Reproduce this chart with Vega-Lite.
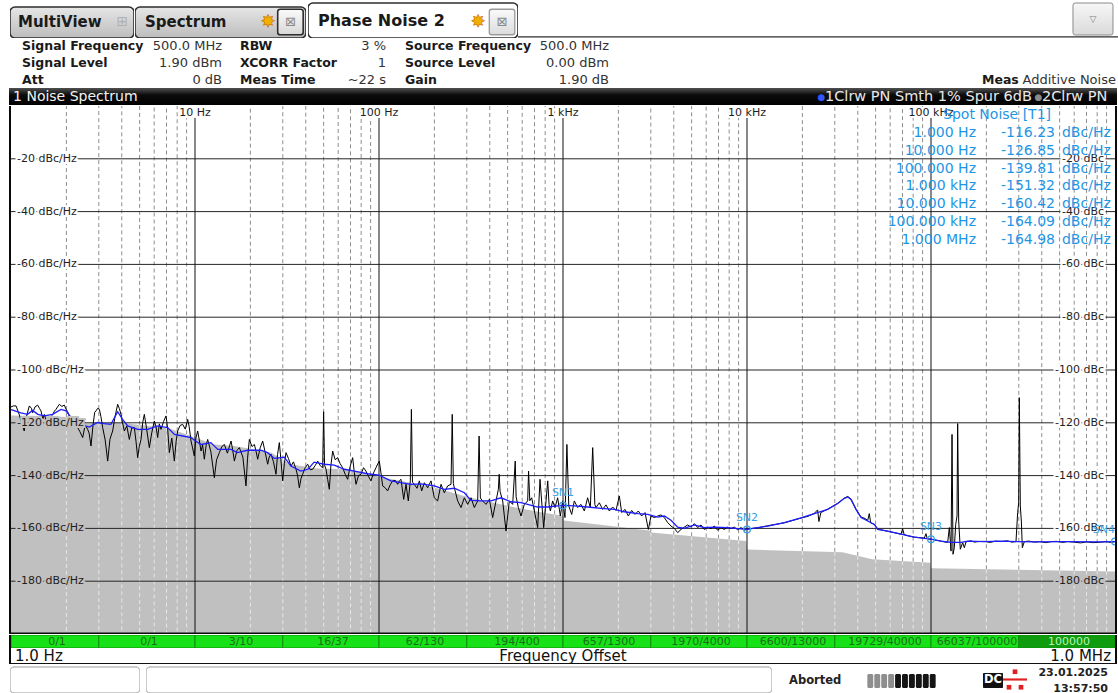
{
"$schema":"https://vega.github.io/schema/vega-lite/v6.json",
"background":"#ffffff",
"padding":0,
"spacing":0,
"config":{"view":{"stroke":null},"concat":{"spacing":0},"axis":{"disable":true},"legend":{"disable":true},"font":"DejaVu Sans"},
"datasets":{
"params":[
{"c":"1","r":"1","k":"Signal Frequency","v":"500.0 MHz"},
{"c":"1","r":"2","k":"Signal Level","v":"1.90 dBm"},
{"c":"1","r":"3","k":"Att","v":"0 dB"},
{"c":"2","r":"1","k":"RBW","v":"3 %"},
{"c":"2","r":"2","k":"XCORR Factor","v":"1"},
{"c":"2","r":"3","k":"Meas Time","v":"~22 s"},
{"c":"3","r":"1","k":"Source Frequency","v":"500.0 MHz"},
{"c":"3","r":"2","k":"Source Level","v":"0.00 dBm"},
{"c":"3","r":"3","k":"Gain","v":"1.90 dB"}
],
"area":[
{"f":1,"a":-117.2},{"f":1.5,"a":-117.4},{"f":2,"a":-117.8},{"f":2.2,"a":-118.7},{"f":2.6,"a":-120.3},{"f":3.5,"a":-120},{"f":4.3,"a":-120.3},{"f":5.6,"a":-121.2},{"f":7,"a":-121.8},{"f":9,"a":-124.4},{"f":12.7,"a":-128.2},{"f":16.4,"a":-128.8},{"f":21,"a":-130.1},{"f":26,"a":-131.3},{"f":33,"a":-135.7},{"f":46,"a":-137.3},{"f":67,"a":-137.6},{"f":85,"a":-139.5},{"f":132,"a":-142},{"f":200,"a":-144.5},{"f":300,"a":-148},{"f":450,"a":-150.8},{"f":600,"a":-152.6},{"f":800,"a":-154.2},{"f":1000,"a":-155.2},{"f":1010,"a":-157},{"f":2950,"a":-160.8},{"f":3000,"a":-161.6},{"f":9900,"a":-164.8},{"f":10000,"a":-168},{"f":33000,"a":-169},{"f":48000,"a":-171.7},{"f":99000,"a":-173},{"f":100000,"a":-175.1},{"f":1000000,"a":-176.3}
],
"minor":[
{"f":2,"a":-117.8},{"f":3,"a":-120.1},{"f":4,"a":-120.2},{"f":5,"a":-120.8},{"f":6,"a":-121.4},{"f":7,"a":-121.8},{"f":8,"a":-123.2},{"f":9,"a":-124.4},
{"f":20,"a":-129.8},{"f":30,"a":-133.8},{"f":40,"a":-136.6},{"f":50,"a":-137.4},{"f":60,"a":-137.5},{"f":70,"a":-138},{"f":80,"a":-139},{"f":90,"a":-139.8},
{"f":200,"a":-144.5},{"f":300,"a":-148},{"f":400,"a":-150},{"f":500,"a":-151.5},{"f":600,"a":-152.6},{"f":700,"a":-153.5},{"f":800,"a":-154.2},{"f":900,"a":-154.7},
{"f":2000,"a":-159.4},{"f":3000,"a":-161.6},{"f":4000,"a":-162.4},{"f":5000,"a":-163},{"f":6000,"a":-163.5},{"f":7000,"a":-163.9},{"f":8000,"a":-164.2},{"f":9000,"a":-164.5},
{"f":20000,"a":-168.6},{"f":30000,"a":-168.9},{"f":40000,"a":-170.4},{"f":50000,"a":-171.8},{"f":60000,"a":-172.1},{"f":70000,"a":-172.4},{"f":80000,"a":-172.6},{"f":90000,"a":-172.8},
{"f":200000,"a":-175.5},{"f":300000,"a":-175.7},{"f":400000,"a":-175.8},{"f":500000,"a":-175.9},{"f":600000,"a":-176},{"f":700000,"a":-176.1},{"f":800000,"a":-176.2},{"f":900000,"a":-176.2}
],
"dec":[{"f":10,"t":"10 Hz"},{"f":100,"t":"100 Hz"},{"f":1000,"t":"1 kHz"},{"f":10000,"t":"10 kHz"},{"f":100000,"t":"100 kHz"}],
"hgrid":[
{"v":-20,"l":"-20 dBc/Hz","r":"-20 dBc"},{"v":-40,"l":"-40 dBc/Hz","r":"-40 dBc"},{"v":-60,"l":"-60 dBc/Hz","r":"-60 dBc"},{"v":-80,"l":"-80 dBc/Hz","r":"-80 dBc"},{"v":-100,"l":"-100 dBc/Hz","r":"-100 dBc"},{"v":-120,"l":"-120 dBc/Hz","r":"-120 dBc"},{"v":-140,"l":"-140 dBc/Hz","r":"-140 dBc"},{"v":-160,"l":"-160 dBc/Hz","r":"-160 dBc"},{"v":-180,"l":"-180 dBc/Hz","r":"-180 dBc"}
],
"spots":[{"n":"SN1","f":1000,"d":-151.32},{"n":"SN2","f":10000,"d":-160.42},{"n":"SN3","f":100000,"d":-164.09},{"n":"SN4","f":1000000,"d":-164.98}],
"table":[
{"row":1,"fq":"1.000 Hz","val":"-116.23"},{"row":2,"fq":"10.000 Hz","val":"-126.85"},{"row":3,"fq":"100.000 Hz","val":"-139.81"},{"row":4,"fq":"1.000 kHz","val":"-151.32"},{"row":5,"fq":"10.000 kHz","val":"-160.42"},{"row":6,"fq":"100.000 kHz","val":"-164.09"},{"row":7,"fq":"1.000 MHz","val":"-164.98"}
],
"green":[
{"i":1,"s":1,"e":3,"t":"0/1"},{"i":2,"s":3,"e":10,"t":"0/1"},{"i":3,"s":10,"e":30,"t":"3/10"},{"i":4,"s":30,"e":100,"t":"16/37"},{"i":5,"s":100,"e":300,"t":"62/130"},{"i":6,"s":300,"e":1000,"t":"194/400"},{"i":7,"s":1000,"e":3000,"t":"657/1300"},{"i":8,"s":3000,"e":10000,"t":"1970/4000"},{"i":9,"s":10000,"e":30000,"t":"6600/13000"},{"i":10,"s":30000,"e":100000,"t":"19729/40000"},{"i":11,"s":100000,"e":300000,"t":"66037/100000"},{"i":12,"s":300000,"e":1000000,"t":"100000"}
],
"blue":[
{"f":1,"d":-115},{"f":1.03,"d":-115.3},{"f":1.13,"d":-116.2},{"f":1.23,"d":-116.8},{"f":1.31,"d":-115.3},{"f":1.4,"d":-116.8},{"f":1.52,"d":-117.4},{"f":1.68,"d":-116.8},{"f":1.87,"d":-114.9},{"f":1.99,"d":-115.5},{"f":2.12,"d":-118},{"f":2.4,"d":-120.6},{"f":2.66,"d":-121.6},{"f":2.96,"d":-119.9},{"f":3.21,"d":-120.3},{"f":3.49,"d":-120.6},{"f":3.8,"d":-115.8},{"f":4.04,"d":-118.7},{"f":4.31,"d":-121.2},{"f":4.88,"d":-122.5},{"f":5.53,"d":-122.5},{"f":6.27,"d":-121.2},{"f":7.1,"d":-121.8},{"f":7.73,"d":-124.4},{"f":8.58,"d":-125},{"f":9.51,"d":-125.6},{"f":10,"d":-126.8},{"f":10.8,"d":-128.2},{"f":12.2,"d":-127.5},{"f":13.3,"d":-130.1},{"f":15.7,"d":-130.1},{"f":17,"d":-131.3},{"f":19.3,"d":-130.4},{"f":22.8,"d":-130.4},{"f":24.8,"d":-131.3},{"f":27,"d":-133.5},{"f":30.6,"d":-133},{"f":33.2,"d":-136.4},{"f":37.6,"d":-138.3},{"f":41.1,"d":-137.6},{"f":44.4,"d":-134.9},{"f":50.5,"d":-135.7},{"f":57.1,"d":-136},{"f":64.9,"d":-137.6},{"f":73.5,"d":-138.3},{"f":86.7,"d":-139.3},{"f":100,"d":-139.8},{"f":116,"d":-142},{"f":131,"d":-142.7},{"f":149,"d":-143.3},{"f":169,"d":-143.1},{"f":200,"d":-143.9},{"f":226,"d":-145.2},{"f":257,"d":-144.8},{"f":291,"d":-146.5},{"f":316,"d":-149.4},{"f":358,"d":-149.6},{"f":406,"d":-149.6},{"f":460,"d":-148.4},{"f":521,"d":-149.9},{"f":591,"d":-150.2},{"f":643,"d":-150.9},{"f":728,"d":-151.9},{"f":826,"d":-151.9},{"f":935,"d":-151.5},{"f":1000,"d":-151.3},{"f":1152,"d":-151.5},{"f":1361,"d":-151.9},{"f":1610,"d":-152.4},{"f":1902,"d":-152.8},{"f":2155,"d":-153.7},{"f":2546,"d":-154.4},{"f":2886,"d":-154.7},{"f":3270,"d":-155.7},{"f":3556,"d":-155.3},{"f":3864,"d":-156.9},{"f":4200,"d":-159.5},{"f":4565,"d":-160},{"f":5172,"d":-158.7},{"f":5862,"d":-159.7},{"f":6642,"d":-159.5},{"f":7852,"d":-159.7},{"f":8897,"d":-160.1},{"f":10000,"d":-160.4},{"f":11430,"d":-159.7},{"f":12950,"d":-159.1},{"f":15950,"d":-157.8},{"f":19650,"d":-156},{"f":23220,"d":-154.4},{"f":27460,"d":-152.8},{"f":31120,"d":-150.6},{"f":33830,"d":-148.6},{"f":35270,"d":-148.1},{"f":36750,"d":-149},{"f":39100,"d":-152.8},{"f":41660,"d":-155.9},{"f":45290,"d":-157.2},{"f":49230,"d":-158.5},{"f":51320,"d":-160.4},{"f":58180,"d":-161},{"f":68720,"d":-162.2},{"f":81150,"d":-163.3},{"f":91970,"d":-163.8},{"f":100000,"d":-164.1},{"f":113300,"d":-164.8},{"f":128400,"d":-165.3},{"f":145600,"d":-165.3},{"f":158200,"d":-164.8},{"f":195000,"d":-165},{"f":240000,"d":-164.8},{"f":295800,"d":-165},{"f":364200,"d":-165.1},{"f":552700,"d":-165},{"f":839700,"d":-165.1},{"f":1000000,"d":-165}
],
"black":[
{"f":1,"d":-114},{"f":1.03,"d":-113.6},{"f":1.065,"d":-113.6},{"f":1.09,"d":-115.5},{"f":1.11,"d":-117},{"f":1.14,"d":-120},{"f":1.18,"d":-123.1},{"f":1.21,"d":-118},{"f":1.258,"d":-113.6},{"f":1.29,"d":-114.5},{"f":1.311,"d":-116.2},{"f":1.35,"d":-114},{"f":1.396,"d":-113.3},{"f":1.43,"d":-114.6},{"f":1.455,"d":-115.5},{"f":1.49,"d":-118.5},{"f":1.518,"d":-116.8},{"f":1.55,"d":-119},{"f":1.582,"d":-121.8},{"f":1.63,"d":-118},{"f":1.685,"d":-117},{"f":1.72,"d":-115.6},{"f":1.756,"d":-114.9},{"f":1.79,"d":-114},{"f":1.831,"d":-113},{"f":1.89,"d":-113.8},{"f":1.949,"d":-113.3},{"f":1.99,"d":-114.8},{"f":2.032,"d":-115.8},{"f":2.09,"d":-118.2},{"f":2.164,"d":-119.9},{"f":2.23,"d":-118.6},{"f":2.303,"d":-121.8},{"f":2.37,"d":-123.4},{"f":2.452,"d":-125.6},{"f":2.53,"d":-120.8},{"f":2.61,"d":-122.5},{"f":2.66,"d":-124},{"f":2.721,"d":-128.8},{"f":2.79,"d":-121},{"f":2.85,"d":-116},{"f":2.897,"d":-115.5},{"f":2.96,"d":-114.5},{"f":3.021,"d":-114.9},{"f":3.08,"d":-117.6},{"f":3.149,"d":-121.8},{"f":3.25,"d":-126.5},{"f":3.353,"d":-134.5},{"f":3.45,"d":-126.2},{"f":3.568,"d":-123.1},{"f":3.68,"d":-117.5},{"f":3.799,"d":-113},{"f":3.88,"d":-114.6},{"f":3.961,"d":-116.8},{"f":4.04,"d":-120},{"f":4.13,"d":-123.1},{"f":4.26,"d":-121.2},{"f":4.397,"d":-126.3},{"f":4.53,"d":-122},{"f":4.681,"d":-121.8},{"f":4.78,"d":-127},{"f":4.88,"d":-133.2},{"f":4.98,"d":-129},{"f":5.088,"d":-126.3},{"f":5.2,"d":-119.8},{"f":5.305,"d":-116.8},{"f":5.45,"d":-122},{"f":5.647,"d":-129.4},{"f":5.82,"d":-123.8},{"f":6.012,"d":-119.3},{"f":6.14,"d":-121.5},{"f":6.268,"d":-125.6},{"f":6.4,"d":-120.4},{"f":6.535,"d":-122.5},{"f":6.75,"d":-119.5},{"f":6.957,"d":-117.4},{"f":7.1,"d":-122},{"f":7.254,"d":-131.3},{"f":7.48,"d":-125.8},{"f":7.722,"d":-134.5},{"f":7.9,"d":-127},{"f":8.051,"d":-123.1},{"f":8.3,"d":-121},{"f":8.57,"d":-120.6},{"f":8.85,"d":-122.4},{"f":9.124,"d":-118.7},{"f":9.3,"d":-121.5},{"f":9.512,"d":-126.9},{"f":9.7,"d":-129.5},{"f":9.917,"d":-132.6},{"f":10.1,"d":-126},{"f":10.34,"d":-123.1},{"f":10.55,"d":-126.5},{"f":10.78,"d":-130.7},{"f":11,"d":-128.4},{"f":11.24,"d":-133.8},{"f":11.5,"d":-128.5},{"f":11.72,"d":-126.3},{"f":12.2,"d":-131},{"f":12.74,"d":-140.8},{"f":13.1,"d":-134},{"f":13.56,"d":-131.3},{"f":14,"d":-129},{"f":14.44,"d":-128.2},{"f":15,"d":-131.5},{"f":15.7,"d":-126.9},{"f":16,"d":-130},{"f":16.37,"d":-134.5},{"f":16.9,"d":-130.5},{"f":17.42,"d":-129.4},{"f":18.2,"d":-133},{"f":18.93,"d":-143.9},{"f":19.3,"d":-133.5},{"f":19.74,"d":-126.3},{"f":20.4,"d":-129},{"f":21.02,"d":-128.2},{"f":21.5,"d":-131},{"f":21.91,"d":-133.8},{"f":22.6,"d":-129.5},{"f":23.33,"d":-126.9},{"f":24,"d":-130.8},{"f":24.83,"d":-135.7},{"f":25.3,"d":-133},{"f":25.88,"d":-131.9},{"f":26.7,"d":-134.8},{"f":27.56,"d":-139.5},{"f":28.1,"d":-132},{"f":28.73,"d":-127.5},{"f":29.3,"d":-134},{"f":29.96,"d":-142},{"f":30.6,"d":-135.5},{"f":31.23,"d":-131.3},{"f":32.2,"d":-133.5},{"f":33.25,"d":-136.4},{"f":34.3,"d":-134.8},{"f":35.39,"d":-137.6},{"f":36.1,"d":-140},{"f":36.9,"d":-144.6},{"f":37.7,"d":-141},{"f":38.47,"d":-139.5},{"f":39.7,"d":-137},{"f":40.96,"d":-135.7},{"f":42.3,"d":-137.8},{"f":43.61,"d":-137.6},{"f":45,"d":-136.2},{"f":46.42,"d":-134.5},{"f":48,"d":-136.3},{"f":49.41,"d":-137},{"f":50,"d":-115.8},{"f":50.6,"d":-136},{"f":51.52,"d":-137.6},{"f":52.6,"d":-141.5},{"f":53.71,"d":-145.2},{"f":54.8,"d":-136},{"f":56.01,"d":-130.7},{"f":57.8,"d":-134},{"f":59.63,"d":-133.2},{"f":61.5,"d":-135.5},{"f":63.47,"d":-137},{"f":65.5,"d":-139.5},{"f":67.56,"d":-141.4},{"f":69.7,"d":-136.5},{"f":71.93,"d":-133.2},{"f":73.4,"d":-138.8},{"f":74.99,"d":-143.3},{"f":77.4,"d":-140},{"f":79.83,"d":-139.5},{"f":82.4,"d":-137},{"f":84.98,"d":-138.3},{"f":87.7,"d":-140.3},{"f":90.47,"d":-142},{"f":93.4,"d":-139},{"f":96.31,"d":-137},{"f":98.4,"d":-135.6},{"f":100.4,"d":-134.5},{"f":102.5,"d":-139},{"f":104.7,"d":-143.9},{"f":108,"d":-144.6},{"f":111.4,"d":-145.8},{"f":115,"d":-143.5},{"f":118.7,"d":-142},{"f":122.5,"d":-141.8},{"f":126.3,"d":-143.3},{"f":129,"d":-142},{"f":131.7,"d":-141.4},
{"f":136.2,"d":-149},{"f":140.2,"d":-143.3},{"f":144.3,"d":-149.6},{"f":148,"d":-142},{"f":150,"d":-114.9},{"f":152,"d":-142.5},{"f":155.6,"d":-143.3},{"f":160.9,"d":-144.8},{"f":165.7,"d":-142},{"f":170.6,"d":-145.8},{"f":176.4,"d":-142.7},{"f":183.9,"d":-144.6},{"f":191.7,"d":-142},{"f":199.8,"d":-148.4},{"f":208.3,"d":-149.6},{"f":217.3,"d":-143.3},{"f":226.5,"d":-146.5},{"f":236.2,"d":-143.9},{"f":246.3,"d":-143.3},{"f":250,"d":-116.8},{"f":253.5,"d":-143},{"f":256.7,"d":-144.6},{"f":267.7,"d":-149.6},{"f":279.1,"d":-152.1},{"f":291,"d":-148.4},{"f":303.4,"d":-150.9},{"f":316.2,"d":-148.4},{"f":329.7,"d":-152.1},{"f":343.8,"d":-149.6},{"f":350,"d":-125},{"f":355.5,"d":-148.5},{"f":365.9,"d":-149.6},{"f":381.5,"d":-150.9},{"f":397.8,"d":-149},{"f":414.8,"d":-155.9},{"f":432.4,"d":-149.6},{"f":445.3,"d":-145.2},{"f":450,"d":-139.5},{"f":455,"d":-146},{"f":470.1,"d":-149.6},{"f":490.1,"d":-161},{"f":510.9,"d":-149.6},{"f":532.7,"d":-150.9},{"f":550,"d":-134.5},{"f":556,"d":-148},{"f":571.8,"d":-152.1},{"f":591.2,"d":-155.3},{"f":616.5,"d":-150.9},{"f":642.7,"d":-149.6},{"f":650,"d":-138.3},{"f":660,"d":-149.5},{"f":675.8,"d":-148.4},{"f":698.7,"d":-153.4},{"f":728.5,"d":-159.7},{"f":750,"d":-141.4},{"f":770,"d":-152},{"f":785.3,"d":-159.7},{"f":808.6,"d":-149.6},{"f":826,"d":-142},{"f":840,"d":-151},{"f":853.6,"d":-153.4},{"f":878.8,"d":-149.6},{"f":904.8,"d":-152.1},{"f":935.4,"d":-148.4},{"f":967.2,"d":-155.3},{"f":995.8,"d":-149.6},{"f":1025,"d":-155.9},{"f":1050,"d":-128.2},{"f":1075,"d":-151.5},{"f":1115,"d":-154.7},{"f":1152,"d":-149.6},{"f":1201,"d":-152.1},{"f":1253,"d":-150.9},{"f":1306,"d":-153.4},{"f":1361,"d":-148.4},{"f":1408,"d":-152.1},{"f":1450,"d":-129.4},{"f":1490,"d":-151},{"f":1511,"d":-152.1},{"f":1576,"d":-150.3},{"f":1643,"d":-152.8},{"f":1713,"d":-151.1},{"f":1786,"d":-153.4},{"f":1862,"d":-151.9},{"f":1941,"d":-153.2},{"f":2024,"d":-147.7},{"f":2084,"d":-154},{"f":2173,"d":-152.8},{"f":2265,"d":-155.3},{"f":2362,"d":-153.2},{"f":2463,"d":-154.7},{"f":2567,"d":-153.4},{"f":2677,"d":-155.3},{"f":2791,"d":-154},{"f":2909,"d":-160.4},{"f":3008,"d":-155.3},{"f":3136,"d":-155.9},{"f":3270,"d":-155.3},{"f":3409,"d":-154.9},{"f":3554,"d":-155.9},{"f":3706,"d":-157.8},{"f":3864,"d":-159.1},{"f":4029,"d":-160},{"f":4200,"d":-161.6},{"f":4379,"d":-160.4},{"f":4565,"d":-159.5},{"f":4760,"d":-158.7},{"f":4963,"d":-159.5},{"f":5174,"d":-158.2},{"f":5394,"d":-159.7},{"f":5623,"d":-158.7},{"f":5862,"d":-160.4},{"f":6112,"d":-159.5},{"f":6372,"d":-160.1},{"f":6645,"d":-159.1},{"f":6928,"d":-160.7},{"f":7223,"d":-159.7},{"f":7530,"d":-160.4},{"f":7851,"d":-159.5},{"f":8185,"d":-160.1},{"f":8534,"d":-159.5},{"f":8897,"d":-160.5},{"f":9276,"d":-159.7},{"f":9671,"d":-160.7},{"f":10080,"d":-160.2},
{"f":11430,"d":-159.8},{"f":12950,"d":-159},{"f":15950,"d":-157.9},{"f":19650,"d":-156.1},{"f":21500,"d":-155.4},{"f":23220,"d":-154.3},{"f":24200,"d":-153},{"f":24600,"d":-157.4},{"f":25200,"d":-154},{"f":27460,"d":-152.7},{"f":31120,"d":-150.5},{"f":33830,"d":-148.5},{"f":35270,"d":-147.9},{"f":36750,"d":-148.9},{"f":39100,"d":-152.7},{"f":41660,"d":-155.7},{"f":44000,"d":-156.3},{"f":45290,"d":-157},{"f":46200,"d":-154.4},{"f":47000,"d":-157.9},{"f":49230,"d":-158.5},{"f":51320,"d":-160.2},{"f":54000,"d":-160.6},{"f":58180,"d":-161.1},{"f":63000,"d":-161.6},{"f":68720,"d":-162.2},{"f":70100,"d":-160.1},{"f":71500,"d":-162.4},{"f":76000,"d":-162.9},{"f":81150,"d":-163.3},{"f":87000,"d":-163.5},{"f":91970,"d":-163.7},{"f":93900,"d":-162},{"f":95500,"d":-164},{"f":100000,"d":-164.1},{"f":107000,"d":-164.5},{"f":113300,"d":-164.8},{"f":118000,"d":-165.1},{"f":123200,"d":-165.3},{"f":125800,"d":-159.7},{"f":128500,"d":-168.6},{"f":130100,"d":-124.4},{"f":131700,"d":-169.8},{"f":133900,"d":-167.3},{"f":136200,"d":-158.5},{"f":138500,"d":-155.3},{"f":139600,"d":-120.3},{"f":141400,"d":-157.2},{"f":144300,"d":-167.9},{"f":148600,"d":-165.4},{"f":151800,"d":-167.3},{"f":155000,"d":-165.1},{"f":165000,"d":-164.7},{"f":172000,"d":-165.2},{"f":180000,"d":-165},{"f":195000,"d":-164.9},{"f":210000,"d":-165.3},{"f":225000,"d":-164.8},{"f":240000,"d":-165},{"f":260000,"d":-164.7},{"f":275000,"d":-165.2},{"f":289700,"d":-165},{"f":295800,"d":-154},{"f":299500,"d":-150.3},{"f":302000,"d":-110.5},{"f":305800,"d":-151.5},{"f":309700,"d":-157.2},{"f":313600,"d":-167.3},{"f":321600,"d":-165},{"f":340000,"d":-164.8},{"f":364200,"d":-165.2},{"f":390000,"d":-165},{"f":420000,"d":-165.4},{"f":450000,"d":-165},{"f":480000,"d":-164.9},{"f":520000,"d":-165.3},{"f":552700,"d":-165},{"f":600000,"d":-165.2},{"f":650000,"d":-165.5},{"f":700000,"d":-165.1},{"f":760000,"d":-165.4},{"f":839700,"d":-165.2},{"f":900000,"d":-165},{"f":950000,"d":-165.3},{"f":1000000,"d":-165}
]
},
"vconcat":[
{"spacing":0,"bounds":"flush","hconcat":[
 {"width":10,"height":38,"data":{"values":[{}]},"mark":{"type":"rect","opacity":0}},
 {"width":124,"height":38,"data":{"values":[{"k":"t"}]},"layer":[
  {"mark":{"type":"rect","clip":true,"fill":{"gradient":"linear","x1":0,"y1":0,"x2":0,"y2":1,"stops":[{"offset":0,"color":"#e6e6e6"},{"offset":1,"color":"#bdbdbd"}]},"stroke":"#2e2e2e","strokeWidth":1.6,"cornerRadius":5},"encoding":{"y":{"field":"k","type":"nominal","scale":{"type":"band","paddingInner":0,"paddingOuter":0.1129,"align":1}}}},
  {"mark":{"type":"text","text":"MultiView","align":"left","baseline":"middle","fontSize":15,"fontWeight":"bold","color":"#1a1a1a"},"encoding":{"x":{"field":"k","type":"nominal","scale":{"type":"band","paddingInner":0,"paddingOuter":0},"bandPosition":0.0645},"y":{"field":"k","type":"nominal","scale":{"type":"band","paddingInner":0,"paddingOuter":0.1129,"align":1},"bandPosition":0.5}}},
  {"mark":{"type":"text","text":"⊞","align":"center","baseline":"middle","fontSize":14,"color":"#b0b0b0"},"encoding":{"x":{"field":"k","type":"nominal","scale":{"type":"band","paddingInner":0,"paddingOuter":0},"bandPosition":0.907},"y":{"field":"k","type":"nominal","scale":{"type":"band","paddingInner":0,"paddingOuter":0.1129,"align":1},"bandPosition":0.5}}}
 ]},
 {"width":1,"height":38,"data":{"values":[{}]},"mark":{"type":"rect","opacity":0}},
 {"width":171,"height":38,"data":{"values":[{"k":"t"}]},"layer":[
  {"mark":{"type":"rect","clip":true,"fill":{"gradient":"linear","x1":0,"y1":0,"x2":0,"y2":1,"stops":[{"offset":0,"color":"#e6e6e6"},{"offset":1,"color":"#bdbdbd"}]},"stroke":"#2e2e2e","strokeWidth":1.6,"cornerRadius":5},"encoding":{"y":{"field":"k","type":"nominal","scale":{"type":"band","paddingInner":0,"paddingOuter":0.1129,"align":1}}}},
  {"mark":{"type":"text","text":"Spectrum","align":"left","baseline":"middle","fontSize":15,"fontWeight":"bold","color":"#1a1a1a"},"encoding":{"x":{"field":"k","type":"nominal","scale":{"type":"band","paddingInner":0,"paddingOuter":0},"bandPosition":0.0585},"y":{"field":"k","type":"nominal","scale":{"type":"band","paddingInner":0,"paddingOuter":0.1129,"align":1},"bandPosition":0.5}}},
  {"mark":{"type":"text","text":"✸","align":"center","baseline":"middle","fontSize":17,"color":"#f0b000","stroke":"#d07000","strokeWidth":0.6},"encoding":{"x":{"field":"k","type":"nominal","scale":{"type":"band","paddingInner":0,"paddingOuter":0},"bandPosition":0.778},"y":{"field":"k","type":"nominal","scale":{"type":"band","paddingInner":0,"paddingOuter":0.1129,"align":1},"bandPosition":0.5}}},
  {"mark":{"type":"point","shape":"M-0.8,-1 L0.8,-1 Q1,-1 1,-0.8 L1,0.8 Q1,1 0.8,1 L-0.8,1 Q-1,1 -1,0.8 L-1,-0.8 Q-1,-1 -0.8,-1 Z","size":650,"filled":true,"opacity":1,"fill":{"gradient":"linear","x1":0,"y1":0,"x2":0,"y2":1,"stops":[{"offset":0,"color":"#fafafa"},{"offset":1,"color":"#d8d8d8"}]},"stroke":"#2e2e2e","strokeWidth":1.6},"encoding":{"x":{"field":"k","type":"nominal","scale":{"type":"band","paddingInner":0,"paddingOuter":0},"bandPosition":0.909},"y":{"field":"k","type":"nominal","scale":{"type":"band","paddingInner":0,"paddingOuter":0.1129,"align":1},"bandPosition":0.484}}},
  {"mark":{"type":"text","text":"⊠","align":"center","baseline":"middle","fontSize":13,"color":"#8a8a8a"},"encoding":{"x":{"field":"k","type":"nominal","scale":{"type":"band","paddingInner":0,"paddingOuter":0},"bandPosition":0.909},"y":{"field":"k","type":"nominal","scale":{"type":"band","paddingInner":0,"paddingOuter":0.1129,"align":1},"bandPosition":0.484}}}
 ]},
 {"width":2,"height":38,"data":{"values":[{}]},"mark":{"type":"rect","opacity":0}},
 {"width":210,"height":38,"data":{"values":[{"k":"t"}]},"layer":[
  {"mark":{"type":"rect","clip":true,"fill":"#ffffff","stroke":"#2e2e2e","strokeWidth":1.6,"cornerRadius":5},"encoding":{"y":{"field":"k","type":"nominal","scale":{"type":"band","paddingInner":0,"paddingOuter":0.0429,"align":1}}}},
  {"mark":{"type":"text","text":"Phase Noise 2","align":"left","baseline":"middle","fontSize":16,"fontWeight":"bold","color":"#1a1a1a"},"encoding":{"x":{"field":"k","type":"nominal","scale":{"type":"band","paddingInner":0,"paddingOuter":0},"bandPosition":0.0476},"y":{"field":"k","type":"nominal","scale":{"type":"band","paddingInner":0,"paddingOuter":0.0429,"align":1},"bandPosition":0.5}}},
  {"mark":{"type":"text","text":"✸","align":"center","baseline":"middle","fontSize":17,"color":"#f0b000","stroke":"#d07000","strokeWidth":0.6},"encoding":{"x":{"field":"k","type":"nominal","scale":{"type":"band","paddingInner":0,"paddingOuter":0},"bandPosition":0.81},"y":{"field":"k","type":"nominal","scale":{"type":"band","paddingInner":0,"paddingOuter":0.0429,"align":1},"bandPosition":0.543}}},
  {"mark":{"type":"point","shape":"M-0.8,-1 L0.8,-1 Q1,-1 1,-0.8 L1,0.8 Q1,1 0.8,1 L-0.8,1 Q-1,1 -1,0.8 L-1,-0.8 Q-1,-1 -0.8,-1 Z","size":650,"filled":true,"opacity":1,"fill":{"gradient":"linear","x1":0,"y1":0,"x2":0,"y2":1,"stops":[{"offset":0,"color":"#fafafa"},{"offset":1,"color":"#dcdcdc"}]},"stroke":"#9a9a9a","strokeWidth":1.3},"encoding":{"x":{"field":"k","type":"nominal","scale":{"type":"band","paddingInner":0,"paddingOuter":0},"bandPosition":0.924},"y":{"field":"k","type":"nominal","scale":{"type":"band","paddingInner":0,"paddingOuter":0.0429,"align":1},"bandPosition":0.543}}},
  {"mark":{"type":"text","text":"⊠","align":"center","baseline":"middle","fontSize":13,"color":"#8a8a8a"},"encoding":{"x":{"field":"k","type":"nominal","scale":{"type":"band","paddingInner":0,"paddingOuter":0},"bandPosition":0.924},"y":{"field":"k","type":"nominal","scale":{"type":"band","paddingInner":0,"paddingOuter":0.0429,"align":1},"bandPosition":0.543}}}
 ]},
 {"width":600,"height":38,"data":{"values":[{"k":"t"}]},"layer":[
  {"mark":{"type":"rule","color":"#2e2e2e","strokeWidth":1.3,"clip":true},"encoding":{"y":{"field":"k","type":"nominal","scale":{"type":"band","paddingInner":0,"paddingOuter":0},"bandPosition":0.97}}},
  {"mark":{"type":"point","shape":"M-1.1,-1 L1.1,-1 Q1.25,-1 1.25,-0.85 L1.25,0.85 Q1.25,1 1.1,1 L-1.1,1 Q-1.25,1 -1.25,0.85 L-1.25,-0.85 Q-1.25,-1 -1.1,-1 Z","size":1024,"filled":true,"opacity":1,"fill":{"gradient":"linear","x1":0,"y1":0,"x2":0,"y2":1,"stops":[{"offset":0,"color":"#f7f7f7"},{"offset":1,"color":"#dadada"}]},"stroke":"#8a8a8a","strokeWidth":1},"encoding":{"x":{"field":"k","type":"nominal","scale":{"type":"band","paddingInner":0,"paddingOuter":0},"bandPosition":0.9583},"y":{"field":"k","type":"nominal","scale":{"type":"band","paddingInner":0,"paddingOuter":0},"bandPosition":0.5}}},
  {"mark":{"type":"text","text":"▽","align":"center","baseline":"middle","fontSize":9,"color":"#808080"},"encoding":{"x":{"field":"k","type":"nominal","scale":{"type":"band","paddingInner":0,"paddingOuter":0},"bandPosition":0.9583},"y":{"field":"k","type":"nominal","scale":{"type":"band","paddingInner":0,"paddingOuter":0},"bandPosition":0.5}}}
 ]}
]},
{"spacing":0,"bounds":"flush","hconcat":[
 {"width":22,"height":50,"data":{"values":[{}]},"mark":{"type":"rect","opacity":0}},
 {"width":200,"height":50,"data":{"name":"params"},"transform":[{"filter":"datum.c == '1'"}],"layer":[
  {"mark":{"type":"text","align":"left","baseline":"middle","fontSize":12.5,"fontWeight":"bold","color":"#1a1a1a"},"encoding":{"x":{"field":"c","type":"nominal","scale":{"type":"band","paddingInner":0,"paddingOuter":0},"bandPosition":0},"y":{"field":"r","type":"ordinal","scale":{"type":"point","domain":["1","2","3"],"padding":0.5}},"text":{"field":"k"}}},
  {"mark":{"type":"text","align":"right","baseline":"middle","fontSize":13,"color":"#333333"},"encoding":{"x":{"field":"c","type":"nominal","scale":{"type":"band","paddingInner":0,"paddingOuter":0},"bandPosition":1},"y":{"field":"r","type":"ordinal","scale":{"type":"point","domain":["1","2","3"],"padding":0.5}},"text":{"field":"v"}}}
 ]},
 {"width":18,"height":50,"data":{"values":[{}]},"mark":{"type":"rect","opacity":0}},
 {"width":146,"height":50,"data":{"name":"params"},"transform":[{"filter":"datum.c == '2'"}],"layer":[
  {"mark":{"type":"text","align":"left","baseline":"middle","fontSize":12.5,"fontWeight":"bold","color":"#1a1a1a"},"encoding":{"x":{"field":"c","type":"nominal","scale":{"type":"band","paddingInner":0,"paddingOuter":0},"bandPosition":0},"y":{"field":"r","type":"ordinal","scale":{"type":"point","domain":["1","2","3"],"padding":0.5}},"text":{"field":"k"}}},
  {"mark":{"type":"text","align":"right","baseline":"middle","fontSize":13,"color":"#333333"},"encoding":{"x":{"field":"c","type":"nominal","scale":{"type":"band","paddingInner":0,"paddingOuter":0},"bandPosition":1},"y":{"field":"r","type":"ordinal","scale":{"type":"point","domain":["1","2","3"],"padding":0.5}},"text":{"field":"v"}}}
 ]},
 {"width":19,"height":50,"data":{"values":[{}]},"mark":{"type":"rect","opacity":0}},
 {"width":204,"height":50,"data":{"name":"params"},"transform":[{"filter":"datum.c == '3'"}],"layer":[
  {"mark":{"type":"text","align":"left","baseline":"middle","fontSize":12.5,"fontWeight":"bold","color":"#1a1a1a"},"encoding":{"x":{"field":"c","type":"nominal","scale":{"type":"band","paddingInner":0,"paddingOuter":0},"bandPosition":0},"y":{"field":"r","type":"ordinal","scale":{"type":"point","domain":["1","2","3"],"padding":0.5}},"text":{"field":"k"}}},
  {"mark":{"type":"text","align":"right","baseline":"middle","fontSize":13,"color":"#333333"},"encoding":{"x":{"field":"c","type":"nominal","scale":{"type":"band","paddingInner":0,"paddingOuter":0},"bandPosition":1},"y":{"field":"r","type":"ordinal","scale":{"type":"point","domain":["1","2","3"],"padding":0.5}},"text":{"field":"v"}}}
 ]},
 {"width":373,"height":50,"data":{"values":[{}]},"mark":{"type":"rect","opacity":0}},
 {"width":136,"height":50,"data":{"values":[{"c":"m","r":"3"}]},"layer":[
  {"mark":{"type":"text","text":"Meas","align":"left","baseline":"middle","fontSize":12.5,"fontWeight":"bold","color":"#1a1a1a"},"encoding":{"x":{"field":"c","type":"nominal","scale":{"type":"band","paddingInner":0,"paddingOuter":0},"bandPosition":0},"y":{"field":"r","type":"ordinal","scale":{"type":"point","domain":["1","2","3"],"padding":0.5}}}},
  {"mark":{"type":"text","text":"Additive Noise","align":"right","baseline":"middle","fontSize":13,"color":"#333333"},"encoding":{"x":{"field":"c","type":"nominal","scale":{"type":"band","paddingInner":0,"paddingOuter":0},"bandPosition":0.985},"y":{"field":"r","type":"ordinal","scale":{"type":"point","domain":["1","2","3"],"padding":0.5}}}}
 ]}
]},
{"spacing":0,"bounds":"flush","hconcat":[
 {"width":9,"height":17,"data":{"values":[{}]},"mark":{"type":"rect","opacity":0}},
 {"width":809,"height":17,"data":{"values":[{"k":"a"}]},"layer":[
  {"mark":{"type":"rect","fill":{"gradient":"linear","x1":0,"y1":0,"x2":0,"y2":1,"stops":[{"offset":0,"color":"#505050"},{"offset":0.4,"color":"#0c0c0c"},{"offset":1,"color":"#000000"}]}}},
  {"mark":{"type":"text","text":"1 Noise Spectrum","align":"left","baseline":"middle","fontSize":14,"color":"#f2f2f2"},"encoding":{"x":{"field":"k","type":"nominal","scale":{"type":"band","paddingInner":0,"paddingOuter":0},"bandPosition":0.005}}}
 ]},
 {"width":7,"height":17,"data":{"values":[{"k":"a"}]},"layer":[
  {"mark":{"type":"rect","fill":{"gradient":"linear","x1":0,"y1":0,"x2":0,"y2":1,"stops":[{"offset":0,"color":"#505050"},{"offset":0.4,"color":"#0c0c0c"},{"offset":1,"color":"#000000"}]}}},
  {"mark":{"type":"text","text":"●","align":"center","baseline":"middle","fontSize":9,"color":"#3355ff"}}
 ]},
 {"width":210,"height":17,"data":{"values":[{"k":"a"}]},"layer":[
  {"mark":{"type":"rect","fill":{"gradient":"linear","x1":0,"y1":0,"x2":0,"y2":1,"stops":[{"offset":0,"color":"#505050"},{"offset":0.4,"color":"#0c0c0c"},{"offset":1,"color":"#000000"}]}}},
  {"mark":{"type":"text","text":"1Clrw PN Smth 1% Spur 6dB","align":"left","baseline":"middle","fontSize":14.5,"color":"#e8e8e8"},"encoding":{"x":{"field":"k","type":"nominal","scale":{"type":"band","paddingInner":0,"paddingOuter":0},"bandPosition":0}}}
 ]},
 {"width":7,"height":17,"data":{"values":[{"k":"a"}]},"layer":[
  {"mark":{"type":"rect","fill":{"gradient":"linear","x1":0,"y1":0,"x2":0,"y2":1,"stops":[{"offset":0,"color":"#505050"},{"offset":0.4,"color":"#0c0c0c"},{"offset":1,"color":"#000000"}]}}},
  {"mark":{"type":"text","text":"●","align":"center","baseline":"middle","fontSize":9,"color":"#8a8a8a"}}
 ]},
 {"width":75,"height":17,"data":{"values":[{"k":"a"}]},"layer":[
  {"mark":{"type":"rect","fill":{"gradient":"linear","x1":0,"y1":0,"x2":0,"y2":1,"stops":[{"offset":0,"color":"#505050"},{"offset":0.4,"color":"#0c0c0c"},{"offset":1,"color":"#000000"}]}}},
  {"mark":{"type":"text","text":"2Clrw PN","align":"left","baseline":"middle","fontSize":14.5,"color":"#e8e8e8","clip":true},"encoding":{"x":{"field":"k","type":"nominal","scale":{"type":"band","paddingInner":0,"paddingOuter":0},"bandPosition":0}}}
 ]},
 {"width":1,"height":17,"data":{"values":[{}]},"mark":{"type":"rect","opacity":0}}
]},
{"spacing":0,"bounds":"flush","hconcat":[
 {"width":9,"height":528,"data":{"values":[{}]},"mark":{"type":"rect","opacity":0}},
 {"width":2,"height":528,"data":{"values":[{}]},"mark":{"type":"rect","color":"#0a0a0a"}},
 {"width":1104,"height":528,
  "resolve":{"scale":{"y":"independent"}},
  "layer":[
   {"data":{"name":"area"},"mark":{"type":"area","color":"#c0c0c0","interpolate":"linear","clip":true},"encoding":{"x":{"field":"f","type":"quantitative","scale":{"type":"log","domain":[1,1000000],"nice":false}},"y":{"field":"a","type":"quantitative","scale":{"domain":[-200,0],"nice":false,"zero":false}},"y2":{"datum":-200}}},
   {"data":{"name":"minor"},"mark":{"type":"rule","color":"#8e8e8e","strokeDash":[4,3],"strokeWidth":1},"encoding":{"x":{"field":"f","type":"quantitative","scale":{"type":"log","domain":[1,1000000],"nice":false}},"y":{"field":"a","type":"quantitative","scale":{"domain":[-200,0],"nice":false,"zero":false}},"y2":{"datum":0}}},
   {"data":{"name":"minor"},"mark":{"type":"rule","color":"#e6e6e6","strokeDash":[4,3],"strokeWidth":1},"encoding":{"x":{"field":"f","type":"quantitative","scale":{"type":"log","domain":[1,1000000],"nice":false}},"y":{"field":"a","type":"quantitative","scale":{"domain":[-200,0],"nice":false,"zero":false}},"y2":{"datum":-200}}},
   {"data":{"name":"hgrid"},"mark":{"type":"rule","color":"#262626","strokeWidth":1,"clip":true},"encoding":{"y":{"field":"v","type":"quantitative","scale":{"domain":[-200,0],"nice":false,"zero":false}}}},
   {"data":{"name":"dec"},"mark":{"type":"rule","color":"#111111","strokeWidth":1},"encoding":{"x":{"field":"f","type":"quantitative","scale":{"type":"log","domain":[1,1000000],"nice":false}},"y":{"datum":-4.5,"type":"quantitative","scale":{"domain":[-200,0],"nice":false,"zero":false}},"y2":{"datum":-200}}},
   {"data":{"name":"black"},"mark":{"type":"line","color":"#000000","strokeWidth":1,"clip":true},"encoding":{"x":{"field":"f","type":"quantitative","scale":{"type":"log","domain":[1,1000000],"nice":false}},"y":{"field":"d","type":"quantitative","scale":{"domain":[-200,0],"nice":false,"zero":false}}}},
   {"data":{"name":"blue"},"mark":{"type":"line","color":"#1c1cff","strokeWidth":1.3,"clip":true},"encoding":{"x":{"field":"f","type":"quantitative","scale":{"type":"log","domain":[1,1000000],"nice":false}},"y":{"field":"d","type":"quantitative","scale":{"domain":[-200,0],"nice":false,"zero":false}}}},
   {"data":{"name":"hgrid"},"mark":{"type":"text","align":"left","baseline":"middle","dx":6,"fontSize":11,"strokeWidth":4},"encoding":{"x":{"datum":1,"type":"quantitative","scale":{"type":"log","domain":[1,1000000],"nice":false}},"y":{"field":"v","type":"quantitative","scale":{"domain":[-200,0],"nice":false,"zero":false}},"text":{"field":"l"},"color":{"condition":{"test":"datum.v <= -120","value":"#c0c0c0"},"value":"#ffffff"},"stroke":{"condition":{"test":"datum.v <= -120","value":"#c0c0c0"},"value":"#ffffff"}}},
   {"data":{"name":"hgrid"},"mark":{"type":"text","align":"left","baseline":"middle","dx":6,"fontSize":11,"color":"#1e1e1e"},"encoding":{"x":{"datum":1,"type":"quantitative","scale":{"type":"log","domain":[1,1000000],"nice":false}},"y":{"field":"v","type":"quantitative","scale":{"domain":[-200,0],"nice":false,"zero":false}},"text":{"field":"l"}}},
   {"data":{"name":"hgrid"},"mark":{"type":"text","align":"right","baseline":"middle","dx":-11,"fontSize":11,"strokeWidth":4},"encoding":{"x":{"datum":1000000,"type":"quantitative","scale":{"type":"log","domain":[1,1000000],"nice":false}},"y":{"field":"v","type":"quantitative","scale":{"domain":[-200,0],"nice":false,"zero":false}},"text":{"field":"r"},"color":{"condition":{"test":"datum.v <= -180","value":"#c0c0c0"},"value":"#ffffff"},"stroke":{"condition":{"test":"datum.v <= -180","value":"#c0c0c0"},"value":"#ffffff"}}},
   {"data":{"name":"hgrid"},"mark":{"type":"text","align":"right","baseline":"middle","dx":-11,"fontSize":11,"color":"#1e1e1e"},"encoding":{"x":{"datum":1000000,"type":"quantitative","scale":{"type":"log","domain":[1,1000000],"nice":false}},"y":{"field":"v","type":"quantitative","scale":{"domain":[-200,0],"nice":false,"zero":false}},"text":{"field":"r"}}},
   {"data":{"name":"dec"},"mark":{"type":"text","align":"center","baseline":"top","dy":1,"fontSize":11,"color":"#ffffff","stroke":"#ffffff","strokeWidth":4,"clip":true},"encoding":{"x":{"field":"f","type":"quantitative","scale":{"type":"log","domain":[1,1000000],"nice":false}},"y":{"datum":0,"type":"quantitative","scale":{"domain":[-200,0],"nice":false,"zero":false}},"text":{"field":"t"}}},
   {"data":{"name":"dec"},"mark":{"type":"text","align":"center","baseline":"top","dy":1,"fontSize":11,"color":"#1e1e1e"},"encoding":{"x":{"field":"f","type":"quantitative","scale":{"type":"log","domain":[1,1000000],"nice":false}},"y":{"datum":0,"type":"quantitative","scale":{"domain":[-200,0],"nice":false,"zero":false}},"text":{"field":"t"}}},
   {"data":{"name":"spots"},"mark":{"type":"point","shape":"circle","filled":false,"size":45,"color":"#3aa0e6","strokeWidth":1.3,"opacity":1,"clip":true},"encoding":{"x":{"field":"f","type":"quantitative","scale":{"type":"log","domain":[1,1000000],"nice":false}},"y":{"field":"d","type":"quantitative","scale":{"domain":[-200,0],"nice":false,"zero":false}}}},
   {"data":{"name":"spots"},"transform":[{"filter":"datum.n != 'SN4'"}],"mark":{"type":"text","align":"center","baseline":"middle","dy":-12,"fontSize":11,"color":"#3aa0e6"},"encoding":{"x":{"field":"f","type":"quantitative","scale":{"type":"log","domain":[1,1000000],"nice":false}},"y":{"field":"d","type":"quantitative","scale":{"domain":[-200,0],"nice":false,"zero":false}},"text":{"field":"n"}}},
   {"data":{"name":"spots"},"transform":[{"filter":"datum.n == 'SN4'"}],"mark":{"type":"text","align":"right","baseline":"middle","dy":-12,"fontSize":11,"color":"#3aa0e6","clip":true},"encoding":{"x":{"field":"f","type":"quantitative","scale":{"type":"log","domain":[1,1000000],"nice":false}},"y":{"field":"d","type":"quantitative","scale":{"domain":[-200,0],"nice":false,"zero":false}},"text":{"field":"n"}}},
   {"data":{"values":[{"row":0,"t":"Spot Noise [T1]"}]},"mark":{"type":"text","align":"center","baseline":"middle","fontSize":14,"color":"#1e96e6"},"encoding":{"x":{"datum":228500,"type":"quantitative","scale":{"type":"log","domain":[1,1000000],"nice":false}},"y":{"field":"row","type":"ordinal","scale":{"type":"point","domain":[0,1,2,3,4,5,6,7],"range":[9,134],"padding":0}},"text":{"field":"t"}}},
   {"data":{"name":"table"},"mark":{"type":"text","align":"right","baseline":"middle","fontSize":14,"color":"#1e96e6"},"encoding":{"x":{"datum":175600,"type":"quantitative","scale":{"type":"log","domain":[1,1000000],"nice":false}},"y":{"field":"row","type":"ordinal","scale":{"type":"point","domain":[0,1,2,3,4,5,6,7],"range":[9,134],"padding":0}},"text":{"field":"fq"}}},
   {"data":{"name":"table"},"mark":{"type":"text","align":"right","baseline":"middle","fontSize":14,"color":"#1e96e6"},"encoding":{"x":{"datum":472000,"type":"quantitative","scale":{"type":"log","domain":[1,1000000],"nice":false}},"y":{"field":"row","type":"ordinal","scale":{"type":"point","domain":[0,1,2,3,4,5,6,7],"range":[9,134],"padding":0}},"text":{"field":"val"}}},
   {"data":{"name":"table"},"mark":{"type":"text","text":"dBc/Hz","align":"left","baseline":"middle","fontSize":14,"color":"#1e96e6","clip":true},"encoding":{"x":{"datum":515000,"type":"quantitative","scale":{"type":"log","domain":[1,1000000],"nice":false}},"y":{"field":"row","type":"ordinal","scale":{"type":"point","domain":[0,1,2,3,4,5,6,7],"range":[9,134],"padding":0}}}},
   {"data":{"values":[{}]},"mark":{"type":"rule","color":"#0a0a0a","strokeWidth":3,"clip":true},"encoding":{"y":{"datum":-200,"type":"quantitative","scale":{"domain":[-200,0],"nice":false,"zero":false}}}}
  ]},
 {"width":2,"height":528,"data":{"values":[{}]},"mark":{"type":"rect","color":"#0a0a0a"}},
 {"width":1,"height":528,"data":{"values":[{}]},"mark":{"type":"rect","opacity":0}}
]},
{"spacing":0,"bounds":"flush","hconcat":[
 {"width":9,"height":13,"data":{"values":[{}]},"mark":{"type":"rect","opacity":0}},
 {"width":2,"height":13,"data":{"values":[{}]},"mark":{"type":"rect","color":"#0a0a0a"}},
 {"width":1104,"height":13,"data":{"name":"green"},"resolve":{"scale":{"x":"independent"}},"layer":[
  {"mark":{"type":"rect","stroke":"#0c900c","strokeWidth":1,"clip":true},"encoding":{"x":{"field":"s","type":"quantitative","scale":{"type":"log","domain":[1,1000000],"nice":false}},"x2":{"field":"e"},"color":{"condition":{"test":"datum.e > 500000","value":"#0f9c0f"},"value":"#17e217"}}},
  {"mark":{"type":"text","baseline":"middle","align":"center","fontSize":11},"encoding":{"x":{"field":"i","type":"ordinal","scale":{"type":"band","paddingInner":0,"paddingOuter":0}},"text":{"field":"t"},"color":{"condition":{"test":"datum.e > 500000","value":"#b8f5b8"},"value":"#1a6e1a"}}}
 ]},
 {"width":2,"height":13,"data":{"values":[{}]},"mark":{"type":"rect","color":"#0a0a0a"}},
 {"width":1,"height":13,"data":{"values":[{}]},"mark":{"type":"rect","opacity":0}}
]},
{"spacing":0,"bounds":"flush","hconcat":[
 {"width":9,"height":16,"data":{"values":[{}]},"mark":{"type":"rect","opacity":0}},
 {"width":2,"height":16,"data":{"values":[{}]},"mark":{"type":"rect","color":"#0a0a0a"}},
 {"width":1104,"height":16,"data":{"values":[{"k":"a"}]},"layer":[
  {"mark":{"type":"rule","color":"#111111","strokeWidth":2,"clip":true},"encoding":{"y":{"field":"k","type":"nominal","scale":{"type":"band","paddingInner":0,"paddingOuter":0},"bandPosition":1}}},
  {"mark":{"type":"text","text":"1.0 Hz","align":"left","baseline":"middle","dx":4,"fontSize":15,"color":"#111111"},"encoding":{"x":{"datum":1,"type":"quantitative","scale":{"type":"log","domain":[1,1000000],"nice":false}}}},
  {"mark":{"type":"text","text":"Frequency Offset","align":"center","baseline":"middle","fontSize":15,"color":"#111111"},"encoding":{"x":{"datum":1000,"type":"quantitative","scale":{"type":"log","domain":[1,1000000],"nice":false}}}},
  {"mark":{"type":"text","text":"1.0 MHz","align":"right","baseline":"middle","dx":-4,"fontSize":15,"color":"#111111"},"encoding":{"x":{"datum":1000000,"type":"quantitative","scale":{"type":"log","domain":[1,1000000],"nice":false}}}}
 ]},
 {"width":2,"height":16,"data":{"values":[{}]},"mark":{"type":"rect","color":"#0a0a0a"}},
 {"width":1,"height":16,"data":{"values":[{}]},"mark":{"type":"rect","opacity":0}}
]},
{"spacing":0,"bounds":"flush","hconcat":[
 {"width":10,"height":31,"data":{"values":[{}]},"mark":{"type":"rect","opacity":0}},
 {"width":130,"height":31,"data":{"values":[{"k":"a"}]},"mark":{"type":"rect","fill":"#ffffff","stroke":"#9a9a9a","strokeWidth":1,"cornerRadius":4,"clip":true},"encoding":{"y":{"field":"k","type":"nominal","scale":{"type":"band","paddingInner":0,"paddingOuter":0.096,"align":0.6}}}},
 {"width":6,"height":31,"data":{"values":[{}]},"mark":{"type":"rect","opacity":0}},
 {"width":626,"height":31,"data":{"values":[{"k":"a"}]},"mark":{"type":"rect","fill":"#ffffff","stroke":"#9a9a9a","strokeWidth":1,"cornerRadius":4,"clip":true},"encoding":{"y":{"field":"k","type":"nominal","scale":{"type":"band","paddingInner":0,"paddingOuter":0.096,"align":0.6}}}},
 {"width":17,"height":31,"data":{"values":[{}]},"mark":{"type":"rect","opacity":0}},
 {"width":78,"height":31,"data":{"values":[{"k":"a"}]},"mark":{"type":"text","text":"Aborted","align":"left","baseline":"middle","dy":1.5,"fontSize":11.5,"fontWeight":"bold","color":"#222222"},"encoding":{"x":{"field":"k","type":"nominal","scale":{"type":"band","paddingInner":0,"paddingOuter":0},"bandPosition":0}}},
 {"width":69,"height":31,"data":{"values":[{"i":1},{"i":2},{"i":3},{"i":4},{"i":5},{"i":6},{"i":7},{"i":8},{"i":9},{"i":10}]},"mark":{"type":"rect","cornerRadius":1.5},"encoding":{"x":{"field":"i","type":"ordinal","scale":{"type":"band","paddingInner":0.15,"paddingOuter":0.05}},"y":{"datum":"a","type":"nominal","scale":{"type":"band","domain":["a"],"paddingInner":0,"paddingOuter":0.607,"align":0.588}},"color":{"condition":{"test":"datum.i <= 4","value":"#8e8e8e"},"value":"#151515"}}},
 {"width":47,"height":31,"data":{"values":[{}]},"mark":{"type":"rect","opacity":0}},
 {"width":20,"height":31,"data":{"values":[{"k":"a"}]},"layer":[
  {"mark":{"type":"rect","fill":"#111111","cornerRadius":1},"encoding":{"y":{"field":"k","type":"nominal","scale":{"type":"band","paddingInner":0,"paddingOuter":0.533,"align":0.5625}}}},
  {"mark":{"type":"text","text":"DC","align":"center","baseline":"middle","fontSize":11.5,"fontWeight":"bold","color":"#ffffff"},"encoding":{"y":{"field":"k","type":"nominal","scale":{"type":"band","paddingInner":0,"paddingOuter":0.533,"align":0.5625},"bandPosition":0.5}}}
 ]},
 {"width":24,"height":31,"data":{"values":[{"px":"b","py":"t"},{"px":"a","py":"b"},{"px":"c","py":"b"}]},"layer":[
  {"mark":{"type":"rule","color":"#e02020","strokeWidth":1.5},"encoding":{"y":{"datum":"m","type":"nominal","scale":{"type":"point","domain":["t","m","b"],"padding":1.2}}}},
  {"mark":{"type":"point","shape":"square","size":22,"filled":true,"opacity":1,"color":"#e02020"},"encoding":{"x":{"field":"px","type":"nominal","scale":{"type":"point","domain":["a","b","c"],"padding":1}},"y":{"field":"py","type":"nominal","scale":{"type":"point","domain":["t","m","b"],"padding":1.2}}}}
 ]},
 {"width":85,"height":31,"data":{"values":[{"k":"a","r":"d","t":"23.01.2025"},{"k":"a","r":"t","t":"13:57:50"}]},"mark":{"type":"text","align":"right","baseline":"middle","dy":1.5,"fontSize":11,"fontWeight":"bold","color":"#222222"},"encoding":{"x":{"field":"k","type":"nominal","scale":{"type":"band","paddingInner":0,"paddingOuter":0},"bandPosition":0.953},"y":{"field":"r","type":"nominal","scale":{"type":"point","domain":["d","t"],"padding":0.5}},"text":{"field":"t"}}},
 {"width":6,"height":31,"data":{"values":[{}]},"mark":{"type":"rect","opacity":0}}
]}
]
}
